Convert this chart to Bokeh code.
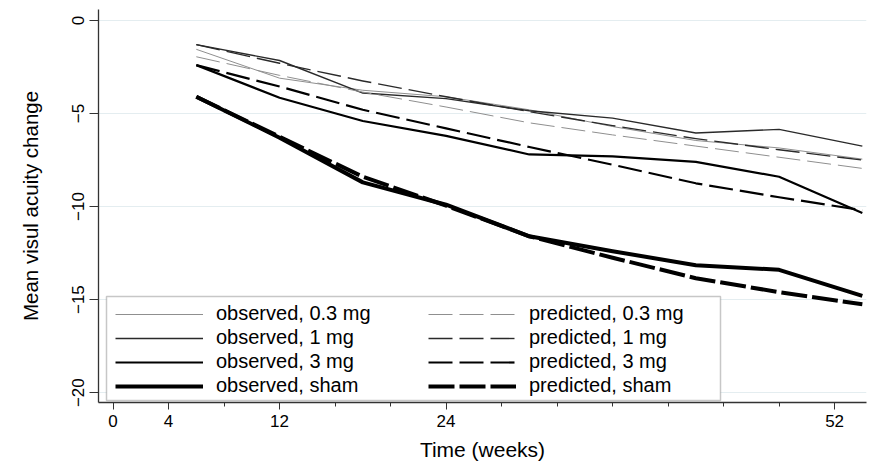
from bokeh.plotting import figure
from bokeh.models import FixedTicker, Legend, LegendItem, BoxAnnotation, Range1d
from bokeh.embed import file_html
from bokeh.resources import INLINE

# ---- data ----
weeks = [6, 12, 18, 24, 30, 36, 42, 48, 54]

obs_03 = [-1.55, -3.1, -3.75, -4.1, -4.8, -5.7, -6.45, -6.85, -7.45]
pred_03 = [-1.95, -2.95, -3.85, -4.65, -5.5, -6.15, -6.75, -7.35, -7.95]
obs_1 = [-1.3, -2.15, -3.9, -4.2, -4.85, -5.25, -6.05, -5.85, -6.75]
pred_1 = [-1.3, -2.3, -3.25, -4.1, -4.9, -5.65, -6.35, -6.95, -7.5]
obs_3 = [-2.4, -4.15, -5.4, -6.2, -7.2, -7.3, -7.6, -8.4, -10.35]
pred_3 = [-2.4, -3.55, -4.8, -5.8, -6.8, -7.75, -8.75, -9.5, -10.2]
obs_sham = [-4.1, -6.3, -8.7, -9.9, -11.6, -12.4, -13.15, -13.4, -14.8]
pred_sham = [-4.1, -6.25, -8.4, -9.95, -11.6, -12.75, -13.85, -14.6, -15.25]

labels_obs = ["observed, 0.3 mg", "observed, 1 mg", "observed, 3 mg", "observed, sham"]
labels_pred = ["predicted, 0.3 mg", "predicted, 1 mg", "predicted, 3 mg", "predicted, sham"]

x_major = [0, 4, 12, 24, 52]
x_minor = [8, 16, 20, 28, 32, 36, 40, 44, 48]
y_ticks = [0, -5, -10, -15, -20]

FONT = "Liberation Sans"

p = figure(width=874, height=463,
           x_range=Range1d(-1.05, 54.3), y_range=Range1d(-20.53, 0.59),
           output_backend="svg", toolbar_location=None,
           min_border_top=9, min_border_right=8, min_border_left=98, min_border_bottom=58)
p.outline_line_color = None
p.background_fill_color = "white"
p.border_fill_color = "white"
p.xgrid.visible = False
p.ygrid.grid_line_color = "#e4edf0"
p.ygrid.grid_line_width = 1.2

xa = p.xaxis[0]
xa.ticker = FixedTicker(ticks=x_major, minor_ticks=x_minor)
xa.axis_label = "Time (weeks)"
xa.axis_label_text_font = FONT
xa.axis_label_text_font_size = "21px"
xa.axis_label_text_font_style = "normal"
xa.axis_label_standoff = 8
xa.major_label_text_font = FONT
xa.major_label_text_font_size = "17px"
xa.major_label_standoff = 5
xa.major_tick_out = 7
xa.major_tick_in = 0
xa.minor_tick_out = 4
xa.minor_tick_in = 0

ya = p.yaxis[0]
ya.ticker = FixedTicker(ticks=y_ticks, minor_ticks=[])
ya.axis_label = "Mean visul acuity change"
ya.axis_label_text_font = FONT
ya.axis_label_text_font_size = "20.5px"
ya.axis_label_text_font_style = "normal"
ya.axis_label_standoff = 28
ya.major_label_text_font = FONT
ya.major_label_text_font_size = "17px"
ya.major_label_orientation = "parallel"
ya.major_label_standoff = 5
ya.major_tick_out = 9
ya.major_tick_in = 0

for ax in (xa, ya):
    ax.axis_line_color = "#333333"
    ax.axis_line_width = 1.3
    ax.major_tick_line_color = "#333333"
    ax.minor_tick_line_color = "#333333"
    ax.major_label_text_color = "black"
    ax.axis_label_text_color = "black"

obs_series = [obs_03, obs_1, obs_3, obs_sham]
pred_series = [pred_03, pred_1, pred_3, pred_sham]
colors = ["#8f8f8f", "#2a2a2a", "black", "black"]
widths = [1.0, 1.4, 2.2, 4.0]
dashes = ["24 7", "24 7", "24 7", "26 5"]

items_obs, items_pred = [], []
for ys, lab, c, w in zip(obs_series, labels_obs, colors, widths):
    r = p.line(weeks, ys, line_color=c, line_width=w, line_join="round")
    items_obs.append(LegendItem(label=lab, renderers=[r]))
for ys, lab, c, w, d in zip(pred_series, labels_pred, colors, widths, dashes):
    r = p.line(weeks, ys, line_color=c, line_width=w, line_dash=d, line_join="round")
    items_pred.append(LegendItem(label=lab, renderers=[r]))

box = BoxAnnotation(left=106, right=720, top=296, bottom=400,
                    left_units="canvas", right_units="canvas",
                    top_units="canvas", bottom_units="canvas",
                    fill_color="white", fill_alpha=1.0,
                    line_color="#444444", line_width=1.5, level="annotation")
p.add_layout(box)

def make_legend(items, loc):
    lg = Legend(items=items, location=loc, orientation="vertical")
    lg.label_text_font = FONT
    lg.label_text_font_size = "20px"
    lg.label_text_color = "black"
    lg.glyph_width = 88
    lg.glyph_height = 20
    lg.label_height = 20
    lg.label_standoff = 13
    lg.spacing = 1
    lg.padding = 6
    lg.margin = 0
    lg.border_line_color = None
    lg.background_fill_alpha = 0
    return lg

p.add_layout(make_legend(items_obs, (17, 5)))
p.add_layout(make_legend(items_pred, (330, 5)))

open("out.html", "w").write(file_html(p, INLINE))
